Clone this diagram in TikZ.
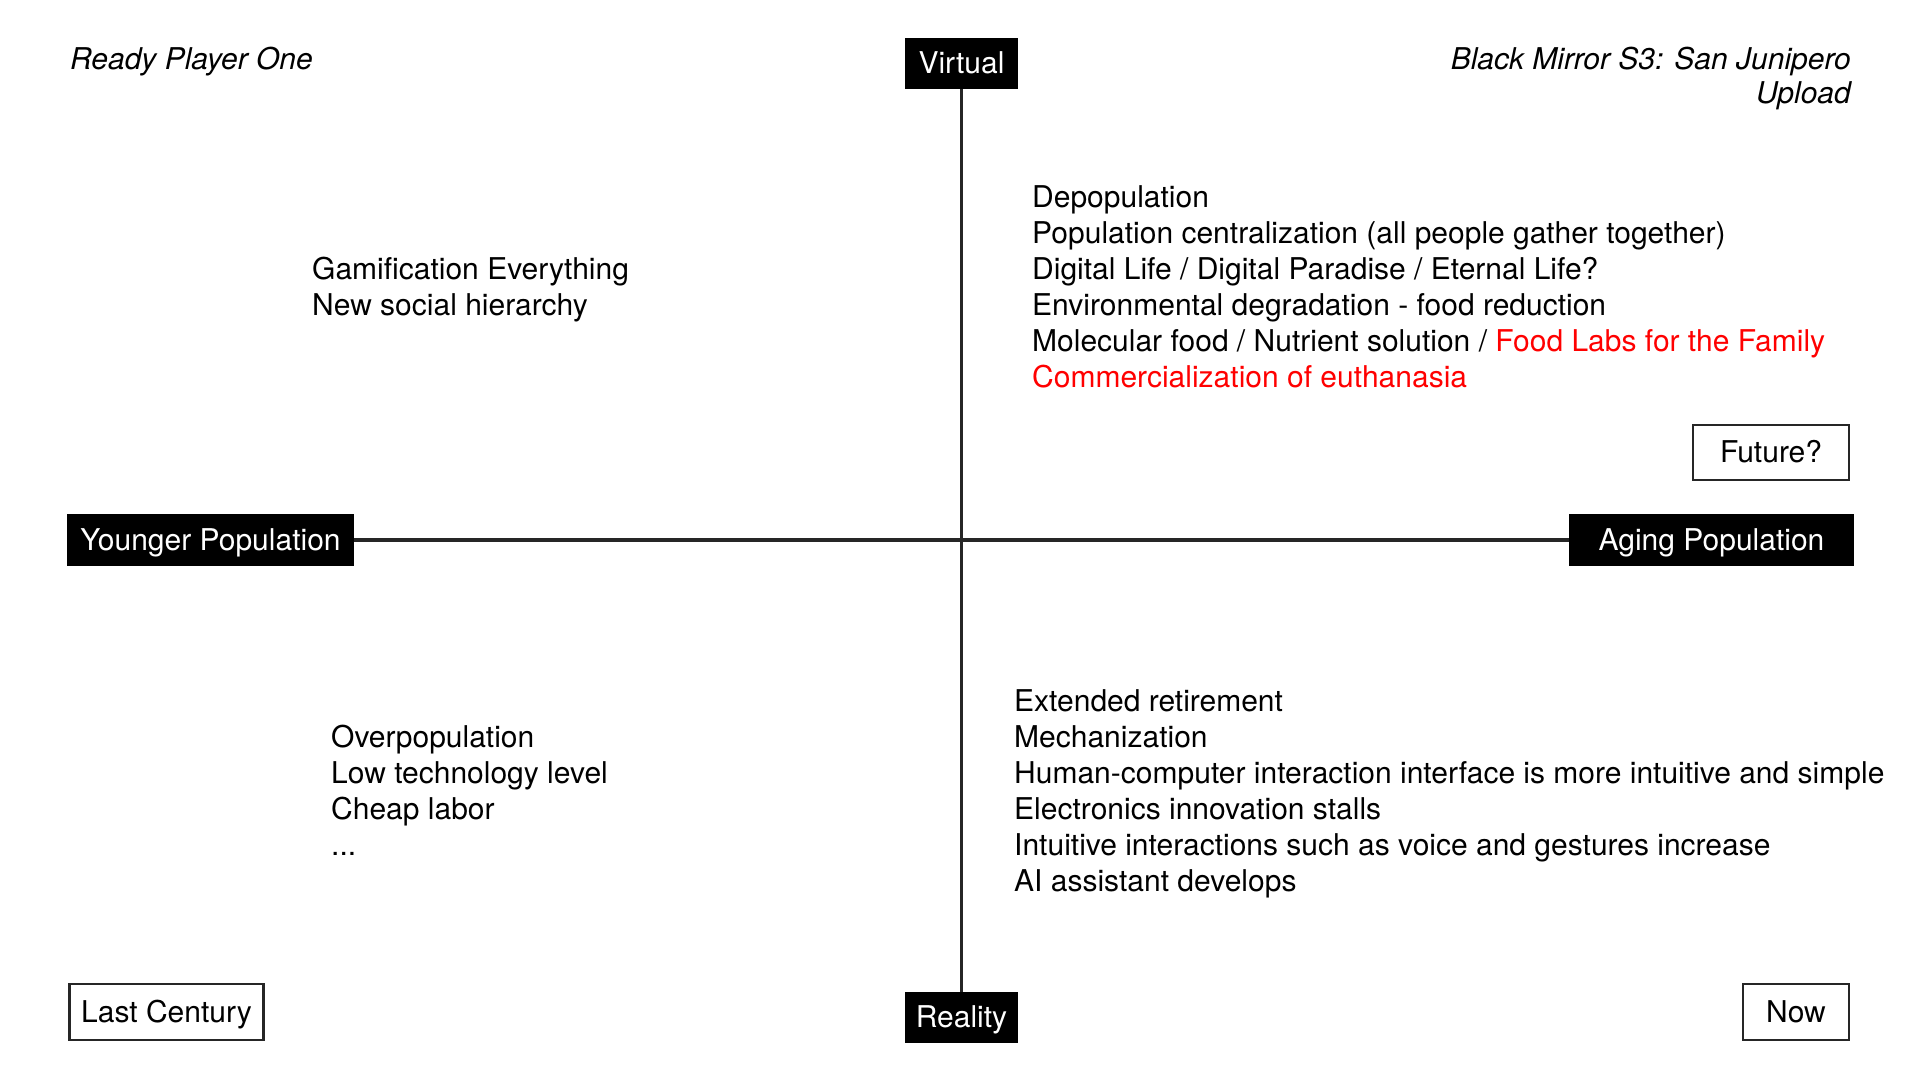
\documentclass[tikz,border=0pt]{standalone}
\usepackage{fontspec}
\setmainfont{TeX Gyre Heros}
\begin{document}
\begin{tikzpicture}[x=1pt,y=-1pt,
  every node/.style={font=\fontsize{30}{36}\selectfont, inner sep=0pt},
  boxtext/.style={text height=21pt, text depth=1pt},
  axislabel/.style={boxtext, fill=black, text=white},
  framebox/.style={boxtext, draw=black!85, line width=2.5pt, fill=white},
  axisline/.style={draw=black!85, line width=3.5pt},
  notes/.style={align=left, anchor=base west},
  work/.style={font=\fontsize{30}{34}\selectfont\itshape}
]
\useasboundingbox (0,0) rectangle (1920,1080);
\fill[white] (0,0) rectangle (1920,1080);

% axis end labels
\node[axislabel, minimum width=113pt, minimum height=51pt] (virtual) at (961.5,63.5) {Virtual};
\node[axislabel, minimum width=113pt, minimum height=51pt] (reality) at (961.5,1017.5) {Reality};
\node[axislabel, minimum width=287pt, minimum height=52pt] (younger) at (210.5,540) {Younger Population};
\node[axislabel, minimum width=285pt, minimum height=52pt] (aging) at (1711.5,540) {Aging Population};

% axes
\draw[axisline] (virtual.south) -- (reality.north);
\draw[axisline] (younger.east) -- (aging.west);

% time markers
\node[framebox, minimum width=156pt, minimum height=55pt] (future) at (1771,452.5) {Future?};
\node[framebox, minimum width=194pt, minimum height=56pt] (lastcentury) at (166.5,1012) {Last Century};
\node[framebox, minimum width=106pt, minimum height=56pt] (now) at (1796,1012) {Now};

% reference works (multi-line nodes are anchored at their last baseline)
\node[work, anchor=base west] (rpo) at (70,69) {Ready Player One};
\node[work, align=right, anchor=base east] (bm) at (1851,103) {Black Mirror S3: San Junipero\\Upload};

% quadrant notes
\node[notes] (topleft) at (312,315) {Gamification Everything\\New social hierarchy};
\node[notes] (topright) at (1032,387) {Depopulation\\
Population centralization (all people gather together)\\
Digital Life / Digital Paradise / Eternal Life?\\
Environmental degradation - food reduction\\
Molecular food / Nutrient solution / \textcolor{red}{Food Labs for the Family}\\
\textcolor{red}{Commercialization of euthanasia}};
\node[notes] (bottomleft) at (331,855) {Overpopulation\\Low technology level\\Cheap labor\\...};
\node[notes] (bottomright) at (1014,891) {Extended retirement\\
Mechanization\\
Human-computer interaction interface is more intuitive and simple\\
Electronics innovation stalls\\
Intuitive interactions such as voice and gestures increase\\
AI assistant develops};
\end{tikzpicture}
\end{document}
